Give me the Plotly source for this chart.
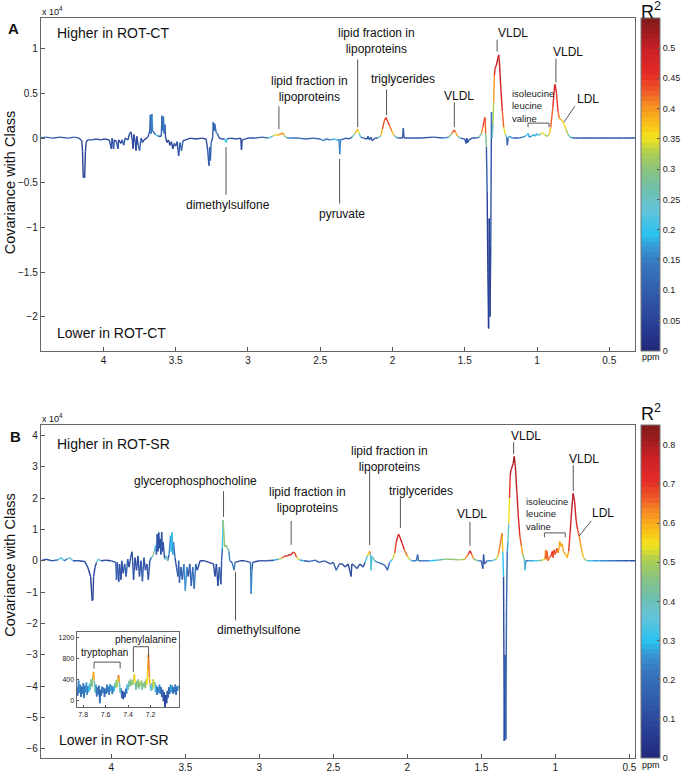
import plotly.graph_objects as go

W, H = 685, 773
FONT = "Liberation Sans, Arial, sans-serif"

# ---------------- Panel A data (ppm, covariance x1e4, R^2) ----------------
A_PPM = [4.44, 4.40, 4.35, 4.30, 4.25, 4.20, 4.17, 4.15, 4.145, 4.14,
         4.13, 4.125, 4.12, 4.11, 4.08, 4.05, 4.02, 3.99, 3.96, 3.945,
         3.94, 3.93, 3.925, 3.91, 3.90, 3.895, 3.88, 3.87, 3.86, 3.85,
         3.83, 3.82, 3.81, 3.80, 3.795, 3.79, 3.78, 3.775, 3.77, 3.76,
         3.75, 3.74, 3.73, 3.72, 3.70, 3.69, 3.68, 3.675, 3.67, 3.665,
         3.66, 3.65, 3.64, 3.63, 3.62, 3.60, 3.595, 3.59, 3.585, 3.58,
         3.575, 3.57, 3.56, 3.55, 3.54, 3.53, 3.52, 3.51, 3.50, 3.49,
         3.48, 3.47, 3.46, 3.45, 3.43, 3.40, 3.36, 3.32, 3.29, 3.28,
         3.27, 3.265, 3.26, 3.255, 3.245, 3.24, 3.235, 3.23, 3.22, 3.21,
         3.20, 3.18, 3.16, 3.152, 3.145, 3.12, 3.08, 3.05, 3.045, 3.04,
         3.00, 2.95, 2.90, 2.86, 2.83, 2.81, 2.79, 2.78, 2.77, 2.76,
         2.75, 2.73, 2.70, 2.65, 2.60, 2.55, 2.50, 2.48, 2.46, 2.43,
         2.40, 2.38, 2.37, 2.365, 2.36, 2.34, 2.32, 2.30, 2.28, 2.26,
         2.245, 2.24, 2.23, 2.22, 2.20, 2.175, 2.17, 2.16, 2.15, 2.14,
         2.12, 2.10, 2.08, 2.07, 2.055, 2.045, 2.035, 2.02, 2.005, 1.99,
         1.975, 1.96, 1.93, 1.925, 1.92, 1.88, 1.80, 1.72, 1.65, 1.61,
         1.59, 1.575, 1.565, 1.55, 1.53, 1.50, 1.49, 1.485, 1.48, 1.47,
         1.45, 1.42, 1.40, 1.385, 1.375, 1.365, 1.36, 1.355, 1.35, 1.345,
         1.34, 1.335, 1.33, 1.325, 1.32, 1.315, 1.31, 1.305, 1.30, 1.295,
         1.29, 1.28, 1.27, 1.265, 1.26, 1.25, 1.24, 1.23, 1.22, 1.21,
         1.205, 1.20, 1.19, 1.17, 1.13, 1.10, 1.08, 1.06, 1.055, 1.04,
         1.02, 1.01, 1.00, 0.99, 0.97, 0.96, 0.95, 0.93, 0.915, 0.905,
         0.89, 0.88, 0.875, 0.865, 0.855, 0.845, 0.83, 0.815, 0.80, 0.785,
         0.77, 0.75, 0.70, 0.60, 0.50, 0.40, 0.32]
A_COV = [0.00, 0.01, 0.00, 0.01, 0.00, 0.01, 0.00, -0.03, -0.15, -0.44,
         -0.44, -0.15, -0.05, -0.02, -0.02, -0.01, -0.02, -0.01, -0.02, -0.12,
         0.00, -0.12, -0.02, -0.04, -0.12, -0.02, -0.06, -0.02, -0.08, 0.00,
         -0.02, 0.05, 0.07, -0.03, -0.12, 0.04, -0.05, -0.14, 0.02, -0.08,
         -0.14, 0.00, -0.05, -0.02, 0.00, 0.02, 0.08, 0.26, 0.05, 0.27,
         0.08, 0.06, 0.04, 0.03, 0.02, 0.02, 0.25, 0.08, 0.24, 0.05,
         0.15, 0.00, -0.05, -0.02, -0.08, -0.04, -0.12, -0.06, -0.09, -0.04,
         -0.20, -0.05, -0.14, -0.03, -0.02, 0.00, -0.01, 0.00, -0.01, -0.12,
         -0.31, -0.10, -0.25, -0.05, 0.00, 0.18, 0.08, 0.16, 0.06, 0.05,
         0.00, -0.01, -0.01, -0.05, -0.01, 0.00, -0.01, 0.00, -0.13, -0.02,
         0.00, 0.00, 0.01, 0.00, 0.02, 0.04, 0.03, 0.05, 0.04, 0.06,
         0.03, 0.00, 0.00, 0.00, -0.01, 0.00, -0.01, -0.03, -0.01, -0.02,
         -0.01, -0.03, -0.01, -0.18, -0.02, -0.01, 0.00, -0.01, 0.01, 0.05,
         0.09, 0.10, 0.05, 0.01, 0.00, -0.01, 0.02, -0.02, 0.01, -0.03,
         0.00, 0.00, 0.03, 0.10, 0.20, 0.23, 0.19, 0.14, 0.08, 0.03,
         0.01, 0.00, 0.00, 0.11, 0.00, 0.00, 0.00, 0.01, 0.00, 0.01,
         0.05, 0.09, 0.07, 0.02, 0.00, -0.01, -0.06, 0.00, -0.05, -0.02,
         0.00, 0.00, 0.01, 0.05, 0.12, 0.20, 0.23, 0.05, -0.10, -0.60,
         -1.50, -2.13, -0.90, -2.00, -1.20, 0.29, 0.00, 0.15, 0.40, 0.70,
         0.78, 0.82, 0.90, 0.93, 0.85, 0.55, 0.30, 0.12, 0.04, 0.01,
         -0.08, 0.00, 0.02, 0.00, 0.00, 0.01, 0.02, 0.05, 0.01, 0.02,
         0.04, 0.02, 0.05, 0.03, 0.05, 0.06, 0.04, 0.02, 0.04, 0.12,
         0.35, 0.55, 0.60, 0.50, 0.30, 0.22, 0.20, 0.17, 0.10, 0.04,
         0.01, 0.00, 0.00, 0.00, 0.00, 0.00, 0.00]
A_R2 = [0.10, 0.15, 0.08, 0.06, 0.08, 0.12, 0.08, 0.06, 0.05, 0.05,
        0.05, 0.05, 0.06, 0.07, 0.08, 0.08, 0.06, 0.07, 0.06, 0.08,
        0.06, 0.10, 0.06, 0.06, 0.08, 0.06, 0.06, 0.06, 0.10, 0.06,
        0.06, 0.08, 0.06, 0.06, 0.07, 0.06, 0.06, 0.07, 0.06, 0.06,
        0.18, 0.06, 0.06, 0.06, 0.06, 0.08, 0.10, 0.12, 0.08, 0.20,
        0.12, 0.10, 0.08, 0.30, 0.06, 0.06, 0.15, 0.10, 0.18, 0.10,
        0.12, 0.06, 0.06, 0.06, 0.06, 0.06, 0.06, 0.06, 0.08, 0.06,
        0.10, 0.06, 0.15, 0.06, 0.06, 0.06, 0.06, 0.06, 0.06, 0.08,
        0.12, 0.08, 0.15, 0.08, 0.08, 0.10, 0.12, 0.10, 0.15, 0.12,
        0.08, 0.08, 0.10, 0.30, 0.10, 0.08, 0.06, 0.06, 0.06, 0.06,
        0.08, 0.10, 0.08, 0.12, 0.30, 0.36, 0.38, 0.40, 0.38, 0.43,
        0.35, 0.20, 0.12, 0.15, 0.10, 0.12, 0.10, 0.20, 0.10, 0.15,
        0.20, 0.22, 0.12, 0.20, 0.12, 0.10, 0.08, 0.08, 0.15, 0.35,
        0.42, 0.40, 0.30, 0.15, 0.08, 0.08, 0.08, 0.08, 0.08, 0.08,
        0.10, 0.15, 0.35, 0.42, 0.45, 0.45, 0.45, 0.43, 0.40, 0.35,
        0.20, 0.10, 0.08, 0.08, 0.08, 0.08, 0.08, 0.08, 0.10, 0.20,
        0.40, 0.45, 0.43, 0.35, 0.15, 0.08, 0.08, 0.08, 0.08, 0.08,
        0.08, 0.10, 0.15, 0.38, 0.43, 0.45, 0.45, 0.40, 0.15, 0.05,
        0.05, 0.05, 0.05, 0.05, 0.08, 0.08, 0.20, 0.30, 0.35, 0.45,
        0.48, 0.50, 0.50, 0.50, 0.50, 0.48, 0.45, 0.40, 0.30, 0.15,
        0.08, 0.10, 0.25, 0.10, 0.10, 0.12, 0.20, 0.20, 0.15, 0.15,
        0.20, 0.15, 0.22, 0.20, 0.35, 0.36, 0.34, 0.30, 0.35, 0.40,
        0.45, 0.47, 0.48, 0.47, 0.43, 0.40, 0.37, 0.36, 0.35, 0.30,
        0.20, 0.12, 0.08, 0.08, 0.08, 0.08, 0.08]

# ---------------- Panel B data ----------------
B_PPM = [4.48, 4.44, 4.40, 4.36, 4.34, 4.32, 4.30, 4.28, 4.26, 4.22,
         4.18, 4.16, 4.14, 4.13, 4.125, 4.12, 4.11, 4.10, 4.09, 4.07,
         4.04, 4.00, 3.97, 3.965, 3.96, 3.95, 3.945, 3.935, 3.93, 3.92,
         3.91, 3.90, 3.89, 3.88, 3.87, 3.86, 3.855, 3.85, 3.84, 3.83,
         3.82, 3.81, 3.80, 3.79, 3.78, 3.77, 3.76, 3.75, 3.74, 3.73,
         3.72, 3.71, 3.70, 3.695, 3.69, 3.685, 3.68, 3.675, 3.67, 3.665,
         3.66, 3.655, 3.65, 3.64, 3.63, 3.62, 3.61, 3.60, 3.595, 3.59,
         3.585, 3.58, 3.57, 3.56, 3.55, 3.545, 3.54, 3.53, 3.52, 3.51,
         3.50, 3.49, 3.48, 3.47, 3.46, 3.45, 3.44, 3.43, 3.42, 3.40,
         3.37, 3.34, 3.31, 3.30, 3.29, 3.28, 3.27, 3.26, 3.255, 3.25,
         3.245, 3.24, 3.235, 3.225, 3.215, 3.205, 3.20, 3.185, 3.17, 3.165,
         3.13, 3.10, 3.06, 3.055, 3.05, 3.045, 3.00, 2.95, 2.90, 2.87,
         2.85, 2.83, 2.81, 2.80, 2.79, 2.77, 2.76, 2.75, 2.73, 2.70,
         2.66, 2.62, 2.60, 2.56, 2.52, 2.50, 2.48, 2.46, 2.44, 2.42,
         2.40, 2.38, 2.375, 2.36, 2.34, 2.32, 2.30, 2.285, 2.27, 2.255,
         2.25, 2.245, 2.24, 2.22, 2.20, 2.17, 2.15, 2.135, 2.12, 2.10,
         2.085, 2.075, 2.06, 2.05, 2.035, 2.02, 2.00, 1.985, 1.97, 1.94,
         1.93, 1.925, 1.90, 1.85, 1.80, 1.75, 1.70, 1.65, 1.61, 1.59,
         1.577, 1.565, 1.55, 1.52, 1.50, 1.49, 1.485, 1.48, 1.46, 1.43,
         1.40, 1.385, 1.37, 1.36, 1.355, 1.35, 1.345, 1.34, 1.335, 1.33,
         1.325, 1.32, 1.315, 1.31, 1.305, 1.30, 1.295, 1.285, 1.278, 1.27,
         1.26, 1.25, 1.24, 1.23, 1.22, 1.21, 1.205, 1.20, 1.18, 1.15,
         1.12, 1.09, 1.07, 1.065, 1.06, 1.055, 1.05, 1.04, 1.03, 1.02,
         1.015, 1.01, 1.00, 0.99, 0.98, 0.97, 0.965, 0.955, 0.945, 0.93,
         0.92, 0.91, 0.90, 0.89, 0.88, 0.87, 0.86, 0.85, 0.84, 0.83,
         0.82, 0.81, 0.795, 0.78, 0.75, 0.70, 0.65, 0.60, 0.55, 0.50,
         0.46]
B_COV = [0.00, 0.05, 0.00, 0.03, 0.10, 0.00, 0.05, 0.10, 0.00, 0.00,
         -0.02, -0.20, -0.50, -1.27, -1.25, -0.50, -0.20, -0.05, 0.05, 0.00,
         0.02, 0.00, -0.05, -0.60, -0.05, -0.67, -0.10, -0.60, 0.00, -0.40,
         -0.10, -0.50, 0.05, -0.20, 0.10, 0.29, -0.10, -0.60, 0.10, -0.30,
         0.15, -0.50, 0.00, -0.65, 0.10, -0.30, -0.10, -0.60, 0.00, 0.10,
         0.15, 0.30, 0.50, 0.20, 0.85, 0.30, 0.90, 0.40, 0.70, 0.20,
         0.92, 0.30, 0.60, 0.05, 0.16, 0.00, 0.20, 0.80, 0.30, 0.90,
         0.20, 0.60, 0.10, -0.20, -0.50, 0.00, -0.70, -0.20, -0.60, -0.10,
         -0.95, -0.20, -0.50, -0.10, -0.80, -0.20, -0.90, -0.10, -0.30, 0.00,
         0.00, -0.05, -0.10, -0.50, -0.10, -0.80, -0.20, -0.75, 0.00, 0.40,
         1.30, 0.90, 0.45, 0.50, 0.40, 0.30, 0.00, -0.05, -0.30, -0.05,
         0.00, 0.00, -0.05, -1.05, -0.30, -0.05, 0.00, 0.00, 0.02, 0.05,
         0.08, 0.15, 0.15, 0.20, 0.18, 0.28, 0.25, 0.12, 0.03, 0.00,
         -0.02, 0.02, -0.05, 0.00, -0.10, -0.05, -0.30, -0.10, -0.10, -0.20,
         -0.10, -0.50, -0.10, -0.15, -0.25, -0.10, -0.20, -0.05, 0.15, 0.30,
         0.25, -0.30, 0.15, 0.00, -0.05, -0.10, -0.15, -0.30, -0.05, 0.05,
         0.25, 0.60, 0.85, 0.75, 0.55, 0.35, 0.15, 0.05, 0.00, 0.00,
         0.20, 0.00, 0.00, 0.00, 0.02, 0.05, 0.05, 0.03, 0.05, 0.20,
         0.32, 0.20, 0.05, 0.00, 0.00, -0.25, 0.20, -0.10, 0.00, 0.00,
         0.05, 0.20, 0.60, 0.88, 0.30, -0.50, -5.75, -3.00, -5.70, -1.50,
         0.30, 0.60, 1.20, 2.00, 2.70, 2.90, 2.95, 3.10, 3.33, 3.00,
         2.20, 1.40, 0.80, 0.48, 0.20, 0.05, -0.30, 0.00, 0.00, 0.00,
         0.00, 0.02, 0.05, 0.35, 0.05, 0.30, 0.00, 0.10, 0.15, 0.30,
         0.10, 0.35, 0.20, 0.40, 0.25, 0.63, 0.45, 0.55, 0.30, 0.20,
         0.10, 0.30, 0.90, 1.60, 2.15, 1.90, 1.30, 1.00, 0.80, 0.55,
         0.30, 0.10, 0.02, 0.00, 0.00, 0.00, 0.00, 0.00, 0.00, 0.00,
         0.00]
B_R2 = [0.10, 0.12, 0.10, 0.20, 0.50, 0.15, 0.20, 0.55, 0.15, 0.10,
        0.10, 0.10, 0.08, 0.08, 0.08, 0.08, 0.08, 0.10, 0.62, 0.10,
        0.12, 0.10, 0.10, 0.20, 0.10, 0.15, 0.10, 0.12, 0.10, 0.15,
        0.10, 0.20, 0.10, 0.12, 0.10, 0.12, 0.10, 0.15, 0.10, 0.10,
        0.10, 0.10, 0.10, 0.18, 0.10, 0.12, 0.10, 0.15, 0.10, 0.20,
        0.50, 0.45, 0.20, 0.10, 0.15, 0.10, 0.12, 0.10, 0.12, 0.10,
        0.15, 0.10, 0.12, 0.10, 0.65, 0.10, 0.20, 0.30, 0.25, 0.35,
        0.20, 0.30, 0.15, 0.10, 0.20, 0.10, 0.25, 0.12, 0.15, 0.10,
        0.40, 0.12, 0.10, 0.10, 0.20, 0.10, 0.35, 0.10, 0.10, 0.10,
        0.10, 0.10, 0.10, 0.12, 0.10, 0.12, 0.10, 0.15, 0.10, 0.20,
        0.45, 0.50, 0.45, 0.50, 0.45, 0.35, 0.15, 0.10, 0.35, 0.12,
        0.10, 0.10, 0.15, 0.30, 0.20, 0.10, 0.10, 0.12, 0.15, 0.40,
        0.60, 0.72, 0.75, 0.72, 0.72, 0.75, 0.73, 0.65, 0.40, 0.15,
        0.12, 0.20, 0.15, 0.12, 0.15, 0.10, 0.20, 0.12, 0.10, 0.10,
        0.10, 0.10, 0.10, 0.10, 0.12, 0.10, 0.10, 0.15, 0.50, 0.65,
        0.62, 0.10, 0.50, 0.30, 0.20, 0.15, 0.20, 0.15, 0.20, 0.40,
        0.65, 0.72, 0.75, 0.75, 0.73, 0.70, 0.60, 0.45, 0.30, 0.15,
        0.20, 0.15, 0.20, 0.25, 0.35, 0.45, 0.48, 0.45, 0.55, 0.70,
        0.75, 0.72, 0.55, 0.30, 0.15, 0.10, 0.15, 0.10, 0.20, 0.30,
        0.45, 0.60, 0.65, 0.65, 0.50, 0.10, 0.10, 0.12, 0.20, 0.12,
        0.25, 0.30, 0.45, 0.65, 0.75, 0.78, 0.78, 0.80, 0.80, 0.80,
        0.78, 0.75, 0.70, 0.65, 0.55, 0.40, 0.30, 0.20, 0.25, 0.30,
        0.35, 0.50, 0.60, 0.70, 0.60, 0.72, 0.60, 0.65, 0.70, 0.72,
        0.65, 0.70, 0.65, 0.70, 0.60, 0.60, 0.58, 0.60, 0.62, 0.60,
        0.55, 0.65, 0.75, 0.78, 0.80, 0.78, 0.75, 0.70, 0.65, 0.62,
        0.60, 0.55, 0.45, 0.35, 0.30, 0.25, 0.25, 0.20, 0.15, 0.12,
        0.10]

# ---------------- Inset (aromatic region, panel B) ----------------
I_PPM = [7.855, 7.848, 7.841, 7.834, 7.827, 7.820, 7.813, 7.806, 7.799, 7.792,
         7.785, 7.778, 7.771, 7.764, 7.757, 7.750, 7.743, 7.736, 7.729, 7.722,
         7.715, 7.708, 7.701, 7.694, 7.687, 7.680, 7.673, 7.666, 7.659, 7.652,
         7.645, 7.638, 7.631, 7.624, 7.617, 7.610, 7.603, 7.596, 7.589, 7.582,
         7.575, 7.568, 7.561, 7.554, 7.547, 7.540, 7.533, 7.526, 7.519, 7.512,
         7.505, 7.498, 7.491, 7.484, 7.477, 7.470, 7.463, 7.456, 7.449, 7.442,
         7.435, 7.428, 7.421, 7.414, 7.407, 7.400, 7.393, 7.386, 7.379, 7.372,
         7.365, 7.358, 7.351, 7.344, 7.337, 7.330, 7.323, 7.316, 7.309, 7.302,
         7.295, 7.288, 7.281, 7.274, 7.267, 7.260, 7.253, 7.246, 7.239, 7.232,
         7.225, 7.218, 7.211, 7.204, 7.197, 7.190, 7.183, 7.176, 7.169, 7.162,
         7.155, 7.148, 7.141, 7.134, 7.127, 7.120, 7.113, 7.106, 7.099, 7.092,
         7.085, 7.078, 7.071, 7.064, 7.057, 7.050, 7.043, 7.036, 7.029, 7.022,
         7.015, 7.008, 7.001, 6.994, 6.987, 6.980, 6.973, 6.966, 6.959, 6.952]
I_COV = [250, 90, 380, 140, 300, 60, 260, 120, 330, 40,
         280, 150, 340, 100, 270, 160, 320, 200, 400, 260,
         450, 545, 380, 150, 300, 70, 250, 110, 280, -60,
         200, 90, 260, 140, 240, 60, 220, 120, 300, 150,
         260, 100, 310, 180, 280, 120, 260, 170, 330, 230,
         380, 250, 430, 480, 350, 140, 230, 40, 180, 20,
         150, 60, 220, 120, 300, 200, 370, 260, 400, 280,
         380, 300, 420, 495, 330, 200, 370, 250, 400, 220,
         350, 280, 380, 200, 330, 260, 360, 230, 400, 300,
         600, 880, 450, 300, 180, 320, 200, 400, 250, 350,
         150, 280, 100, 250, 150, 300, 120, 250, 60, 200,
         -20, 150, -140, 100, -60, 180, 50, 250, 120, 300,
         160, 280, 120, 250, 150, 300, 100, 260, 180, 280]
I_R2 = [0.30, 0.10, 0.35, 0.15, 0.30, 0.10, 0.25, 0.12, 0.35, 0.10,
        0.30, 0.15, 0.38, 0.12, 0.30, 0.20, 0.40, 0.30, 0.50, 0.40,
        0.55, 0.62, 0.60, 0.20, 0.35, 0.10, 0.30, 0.12, 0.30, 0.08,
        0.20, 0.12, 0.30, 0.15, 0.28, 0.10, 0.25, 0.12, 0.32, 0.15,
        0.30, 0.12, 0.35, 0.20, 0.30, 0.15, 0.30, 0.20, 0.40, 0.35,
        0.55, 0.40, 0.62, 0.68, 0.55, 0.20, 0.30, 0.08, 0.15, 0.08,
        0.12, 0.10, 0.25, 0.15, 0.35, 0.30, 0.45, 0.40, 0.50, 0.40,
        0.50, 0.45, 0.55, 0.60, 0.50, 0.30, 0.50, 0.40, 0.55, 0.35,
        0.50, 0.45, 0.55, 0.30, 0.50, 0.40, 0.50, 0.40, 0.55, 0.50,
        0.60, 0.60, 0.70, 0.50, 0.25, 0.40, 0.30, 0.65, 0.40, 0.45,
        0.20, 0.30, 0.12, 0.25, 0.15, 0.35, 0.12, 0.25, 0.08, 0.20,
        0.08, 0.12, 0.08, 0.10, 0.08, 0.15, 0.10, 0.25, 0.12, 0.35,
        0.20, 0.30, 0.12, 0.25, 0.15, 0.30, 0.10, 0.25, 0.20, 0.30]

CMAX_A = 0.55
CMAX_B = 0.85
A_CB_TICKS = [0, 0.05, 0.1, 0.15, 0.2, 0.25, 0.3, 0.35, 0.4, 0.45, 0.5]
B_CB_TICKS = [0, 0.1, 0.2, 0.3, 0.4, 0.5, 0.6, 0.7, 0.8]

# ---------------- colour map (jet-like, 64 discrete levels) ----------------
STOPS = [(0.00, (33, 40, 120)), (0.08, (40, 62, 150)), (0.16, (48, 88, 170)),
         (0.26, (55, 118, 190)), (0.31, (55, 150, 212)), (0.35, (42, 194, 240)),
         (0.42, (98, 196, 220)), (0.48, (109, 191, 176)), (0.55, (142, 196, 122)),
         (0.60, (181, 208, 74)), (0.64, (243, 228, 28)), (0.69, (251, 185, 26)),
         (0.74, (245, 139, 36)), (0.78, (239, 90, 40)), (0.83, (229, 43, 38)),
         (0.90, (204, 32, 39)), (1.00, (125, 26, 24))]
NLEV = 64


def cmap(t):
    t = max(0.0, min(1.0, t))
    for (t0, c0), (t1, c1) in zip(STOPS[:-1], STOPS[1:]):
        if t <= t1:
            f = (t - t0) / (t1 - t0) if t1 > t0 else 0
            return "rgb(%d,%d,%d)" % tuple(round(a + (b - a) * f) for a, b in zip(c0, c1))
    return "rgb(%d,%d,%d)" % STOPS[-1][1]


PALETTE = [cmap((k + 0.5) / NLEV) for k in range(NLEV)]
DISCRETE = []
for k in range(NLEV):
    DISCRETE.append([k / NLEV, PALETTE[k]])
    DISCRETE.append([(k + 1) / NLEV, PALETTE[k]])

fig = go.Figure()


def colored_line(xs, ys, vals, cmax, xa, ya, width):
    groups = {}
    for i in range(len(xs) - 1):
        v = (vals[i] + vals[i + 1]) / 2 / cmax
        k = min(NLEV - 1, max(0, int(v * NLEV)))
        gx, gy = groups.setdefault(k, ([], []))
        gx.extend([xs[i], xs[i + 1], None])
        gy.extend([ys[i], ys[i + 1], None])
    for k in sorted(groups):
        gx, gy = groups[k]
        fig.add_trace(go.Scatter(x=gx, y=gy, mode="lines",
                                 line=dict(color=PALETTE[k], width=width),
                                 xaxis=xa, yaxis=ya, hoverinfo="skip",
                                 showlegend=False))


colored_line(A_PPM, A_COV, A_R2, CMAX_A, "x", "y", 1.4)
colored_line(B_PPM, B_COV, B_R2, CMAX_B, "x2", "y2", 1.4)
colored_line(I_PPM, I_COV, I_R2, CMAX_B, "x3", "y3", 1.5)


def cbar_trace(xa, ya, cmax, ticks, ytop, ybot):
    fig.add_trace(go.Scatter(
        x=[None], y=[None], mode="markers", xaxis=xa, yaxis=ya,
        hoverinfo="skip", showlegend=False,
        marker=dict(size=0.1, color=[0, cmax], cmin=0, cmax=cmax,
                    colorscale=DISCRETE, showscale=True,
                    colorbar=dict(x=645 / W, xanchor="left",
                                  y=1 - (ytop + ybot) / 2 / H, yanchor="middle",
                                  len=(ybot - ytop) / H, lenmode="fraction",
                                  thickness=19, thicknessmode="pixels",
                                  xpad=0, ypad=0, outlinewidth=1, outlinecolor="#777",
                                  tickvals=ticks, ticks="inside", ticklen=3,
                                  tickcolor="#555",
                                  tickfont=dict(size=9, family=FONT, color="#222")))))


cbar_trace("x", "y", CMAX_A, A_CB_TICKS, 18, 352)
cbar_trace("x2", "y2", CMAX_B, B_CB_TICKS, 427, 761)

axis_common = dict(showgrid=False, zeroline=False, showline=True, mirror=True,
                   linecolor="#666", linewidth=1, ticks="inside", ticklen=4,
                   tickcolor="#555", tickfont=dict(size=10, family=FONT, color="#222"))

fig.update_layout(
    width=W, height=H, autosize=False,
    margin=dict(l=0, r=0, t=0, b=0),
    paper_bgcolor="white", plot_bgcolor="white",
    font=dict(family=FONT, color="#222"),
    xaxis=dict(domain=[41 / W, 639 / W], range=[4.434, 0.32], dtick=0.5, tick0=0,
               anchor="y", **axis_common),
    yaxis=dict(domain=[1 - 352 / H, 1 - 18 / H], range=[-2.378, 1.344], dtick=0.5,
               tick0=0, anchor="x", **axis_common),
    xaxis2=dict(domain=[41 / W, 639 / W], range=[4.477, 0.46], dtick=0.5, tick0=0,
                anchor="y2", **axis_common),
    yaxis2=dict(domain=[1 - 761 / H, 1 - 427 / H], range=[-6.29, 4.32], dtick=1,
                tick0=0, anchor="x2", **axis_common),
    xaxis3=dict(domain=[77 / W, 180 / W], range=[7.859, 6.947],
                tickvals=[7.8, 7.6, 7.4, 7.2], anchor="y3", showgrid=False,
                zeroline=False, showline=True, mirror=True, linecolor="#666",
                ticks="inside", ticklen=2, tickcolor="#555",
                tickfont=dict(size=7, family=FONT, color="#222")),
    yaxis3=dict(domain=[1 - 710 / H, 1 - 634 / H], range=[-136, 1321],
                tickvals=[0, 400, 800, 1200], anchor="x3", showgrid=False,
                zeroline=False, showline=True, mirror=True, linecolor="#666",
                ticks="inside", ticklen=2, tickcolor="#555",
                tickfont=dict(size=7, family=FONT, color="#222")),
)

# ---------------- labels ----------------
ann = []
shapes = []
LINE = dict(color="#555", width=1)


def paper_text(text, px, py, size, xanchor="left", bold=False, angle=0):
    ann.append(dict(text=("<b>%s</b>" % text) if bold else text, x=px / W, y=1 - py / H,
                    xref="paper", yref="paper", showarrow=False, xanchor=xanchor,
                    yanchor="middle", textangle=angle,
                    font=dict(size=size, family=FONT, color="#111")))


paper_text("A", 6, 29, 15, bold=True)
paper_text("x 10<sup>4</sup>", 40, 11, 9)
paper_text("Higher in ROT-CT", 55, 33, 14)
paper_text("Lower in ROT-CT", 55, 334, 14)
paper_text("ppm", 644, 358, 9)
paper_text("R<sup>2</sup>", 655, 11, 18, xanchor="center")
paper_text("Covariance with Class", 10, 183, 14.5, xanchor="center", angle=-90)

paper_text("B", 8, 438, 15, bold=True)
paper_text("x 10<sup>4</sup>", 40, 420, 9)
paper_text("Higher in ROT-SR", 55, 446, 14)
paper_text("Lower in ROT-SR", 57, 743, 14)
paper_text("ppm", 644, 768, 9)
paper_text("R<sup>2</sup>", 655, 414, 18, xanchor="center")
paper_text("Covariance with Class", 10, 567, 14.5, xanchor="center", angle=-90)

# (text, text x, text y, line x, line y top, line y bottom)
A_LABELS = [("lipid fraction in<br>lipoproteins", 2.572, 0.544, 2.786, 0.356, 0.10),
            ("dimethylsulfone", 3.138, -0.744, 3.152, -0.10, -0.633),
            ("pyruvate", 2.352, -0.844, 2.366, -0.233, -0.733),
            ("lipid fraction in<br>lipoproteins", 2.11, 1.089, 2.241, 0.878, 0.122),
            ("triglycerides", 1.924, 0.656, 2.041, 0.544, 0.256),
            ("VLDL", 1.538, 0.467, 1.572, 0.40, 0.122),
            ("VLDL", 1.166, 1.178, 1.276, 1.10, 0.967),
            ("VLDL", 0.786, 0.967, 0.869, 0.889, 0.622)]
B_LABELS = [("glycerophosphocholine", 3.43, 2.54, 3.242, 2.22, 1.40),
            ("dimethylsulfone", 3.0, -2.22, 3.161, -0.35, -1.90),
            ("lipid fraction in<br>lipoproteins", 2.678, 1.94, 2.785, 1.27, 0.51),
            ("lipid fraction in<br>lipoproteins", 2.121, 3.25, 2.255, 2.92, 0.50),
            ("triglycerides", 1.906, 2.22, 2.047, 2.03, 1.05),
            ("VLDL", 1.564, 1.49, 1.577, 1.24, 0.48),
            ("VLDL", 1.201, 3.97, 1.282, 3.78, 3.40),
            ("VLDL", 0.805, 3.24, 0.879, 3.05, 2.22)]

for labels, xr, yr in [(A_LABELS, "x", "y"), (B_LABELS, "x2", "y2")]:
    for text, tx, ty, lx, l0, l1 in labels:
        ann.append(dict(text=text, x=tx, y=ty, xref=xr, yref=yr, showarrow=False,
                        xanchor="center", yanchor="middle",
                        font=dict(size=12, family=FONT, color="#111")))
        shapes.append(dict(type="line", xref=xr, yref=yr, x0=lx, x1=lx, y0=l0, y1=l1,
                           line=LINE))

# LDL labels with diagonal leaders: (text x, y, line x0, y0, x1, y1)
for xr, yr, (tx, ty, x0, y0, x1, y1) in [("x", "y", (0.648, 0.433, 0.738, 0.356, 0.814, 0.178)),
                                          ("x2", "y2", (0.678, 1.52, 0.758, 1.27, 0.839, 0.79))]:
    ann.append(dict(text="LDL", x=tx, y=ty, xref=xr, yref=yr, showarrow=False,
                    xanchor="center", yanchor="middle",
                    font=dict(size=12, family=FONT, color="#111")))
    shapes.append(dict(type="line", xref=xr, yref=yr, x0=x0, y0=y0, x1=x1, y1=y1, line=LINE))

# isoleucine/leucine/valine with bracket: (text x, y, bracket x0, x1, y, leg y)
for xr, yr, (tx, ty, bx0, bx1, by, leg) in [("x", "y", (1.186, 0.356, 1.062, 0.917, 0.167, 0.122)),
                                             ("x2", "y2", (1.215, 1.49, 1.074, 0.933, 0.89, 0.75))]:
    ann.append(dict(text="isoleucine<br>leucine<br>valine", x=tx, y=ty, xref=xr, yref=yr,
                    showarrow=False, xanchor="left", yanchor="middle", align="left",
                    font=dict(size=9.5, family=FONT, color="#222")))
    shapes.append(dict(type="path", xref=xr, yref=yr,
                       path="M %f,%f L %f,%f L %f,%f L %f,%f" % (bx0, leg, bx0, by, bx1, by, bx1, leg),
                       line=LINE))

# inset labels with brackets: (text, text x, y, x0, x1, bracket y, left leg, right leg)
I_LABELS = [("tryptophan", 7.609, 918, 7.703, 7.471, 732, 608, 608),
            ("phenylalanine", 7.244, 1166, 7.353, 7.218, 1029, 546, 825)]
for text, tx, ty, x0, x1, by, l0, l1 in I_LABELS:
    ann.append(dict(text=text, x=tx, y=ty, xref="x3", yref="y3", showarrow=False,
                    xanchor="center", yanchor="middle",
                    font=dict(size=10, family=FONT, color="#111")))
    shapes.append(dict(type="path", xref="x3", yref="y3",
                       path="M %f,%f L %f,%f L %f,%f L %f,%f" % (x0, l0, x0, by, x1, by, x1, l1),
                       line=LINE))

fig.update_layout(annotations=ann, shapes=shapes)
fig.write_html("out.html", config={"displayModeBar": False},
               post_script="document.body.style.margin='0';document.body.style.overflow='hidden';")
